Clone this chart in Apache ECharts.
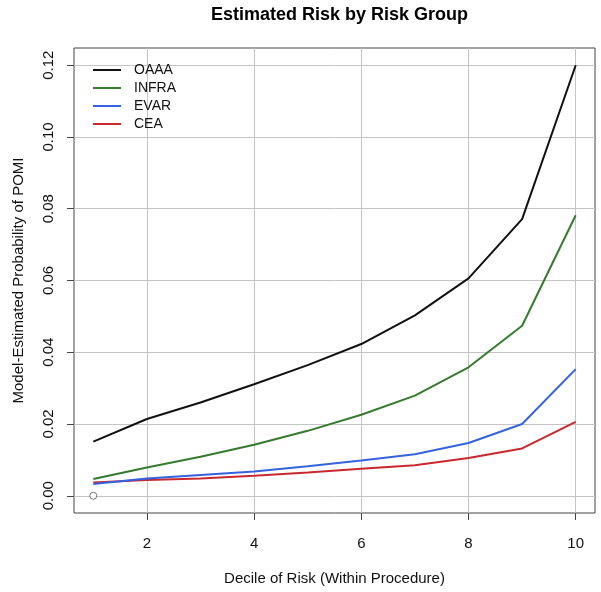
<!DOCTYPE html>
<html>
<head>
<meta charset="utf-8">
<script src="https://cdn.jsdelivr.net/npm/echarts@6/dist/echarts.min.js"></script>
<style>
html,body{margin:0;padding:0;background:#fff;}
#chart{width:601px;height:592px;}
</style>
</head>
<body>
<div id="chart"></div>
<script>
// Data
const deciles = [1, 2, 3, 4, 5, 6, 7, 8, 9, 10];
const oaaa  = [0.0151, 0.0214, 0.0260, 0.0311, 0.0364, 0.0423, 0.0503, 0.0606, 0.0771, 0.1200];
const infra = [0.0047, 0.0079, 0.0109, 0.0142, 0.0181, 0.0226, 0.0279, 0.0358, 0.0474, 0.0782];
const evar  = [0.0033, 0.0048, 0.0058, 0.0068, 0.0082, 0.0098, 0.0116, 0.0147, 0.0200, 0.0353];
const cea   = [0.0037, 0.0044, 0.0048, 0.0056, 0.0065, 0.0075, 0.0085, 0.0105, 0.0132, 0.0206];
const setupPoint = [[1, 0]];
const xTickValues = [2, 4, 6, 8, 10];
const yTickValues = [0, 0.02, 0.04, 0.06, 0.08, 0.10, 0.12];
const seriesNames = ['OAAA', 'INFRA', 'EVAR', 'CEA'];
const seriesColors = ['#111111', '#367a2e', '#3563e0', '#c9282f'];

const FONT = '"Liberation Sans", Arial, sans-serif';
const seriesData = [oaaa, infra, evar, cea];

function pairs(vals) { return deciles.map((d, i) => [d, vals[i]]); }

const chart = echarts.init(document.getElementById('chart'), null, {renderer: 'canvas'});

const option = {
  backgroundColor: '#ffffff',
  animation: false,
  title: {
    text: 'Estimated Risk by Risk Group',
    left: 334.5,
    textAlign: 'center',
    top: 1,
    textStyle: {fontFamily: FONT, fontSize: 18, fontWeight: 'bold', color: '#000'}
  },
  legend: {
    orient: 'vertical',
    left: 88,
    top: 57,
    itemWidth: 28,
    itemHeight: 2,
    itemGap: 2,
    icon: 'rect',
    data: seriesNames,
    textStyle: {fontFamily: FONT, fontSize: 14, color: '#111', lineHeight: 16, padding: [0, 0, 0, 8]}
  },
  grid: {
    left: 74, right: 6, top: 48, bottom: 79,
    show: true, borderColor: '#444', borderWidth: 1, backgroundColor: 'transparent',
    containLabel: false
  },
  xAxis: {
    type: 'value',
    min: 0.64, max: 10.36, interval: 1,
    name: 'Decile of Risk (Within Procedure)',
    nameLocation: 'middle',
    nameGap: 58,
    nameTextStyle: {fontFamily: FONT, fontSize: 15, color: '#111'},
    axisLine: {show: false, onZero: false},
    axisTick: {show: true, inside: false, length: 7, customValues: xTickValues, lineStyle: {color: '#444'}},
    axisLabel: {
      customValues: xTickValues,
      margin: 23,
      fontFamily: FONT, fontSize: 15, color: '#111',
      formatter: v => (xTickValues.indexOf(Math.round(v * 100) / 100) >= 0 ? String(v) : '')
    },
    splitLine: {show: true, lineStyle: {color: '#c4c4c4', width: 1}}
  },
  yAxis: {
    type: 'value',
    min: -0.0048, max: 0.1248, interval: 0.02,
    name: 'Model-Estimated Probability of POMI',
    nameLocation: 'middle',
    nameGap: 48,
    nameRotate: 90,
    nameTextStyle: {fontFamily: FONT, fontSize: 15, color: '#111'},
    axisLine: {show: false, onZero: false},
    axisTick: {show: true, inside: false, length: 7, customValues: yTickValues, lineStyle: {color: '#444'}},
    axisLabel: {
      customValues: yTickValues,
      rotate: 90,
      margin: 18,
      fontFamily: FONT, fontSize: 15, color: '#111',
      formatter: v => {
        const r = Math.round(v * 100) / 100;
        return Math.abs(v - r) < 1e-6 && Math.round(r * 100) % 2 === 0 ? r.toFixed(2) : '';
      }
    },
    splitLine: {show: true, lineStyle: {color: '#c4c4c4', width: 1}}
  },
  series: seriesNames.map((name, i) => ({
    name: name,
    type: 'line',
    data: pairs(seriesData[i]),
    symbol: 'none',
    color: seriesColors[i],
    lineStyle: {color: seriesColors[i], width: 2},
    z: 10 - i
  })).concat([{
    name: 'setup',
    type: 'scatter',
    data: setupPoint,
    symbol: 'circle',
    symbolSize: 7,
    itemStyle: {color: '#ffffff', borderColor: '#555', borderWidth: 1},
    z: 3
  }])
};

chart.setOption(option);
</script>
</body>
</html>
